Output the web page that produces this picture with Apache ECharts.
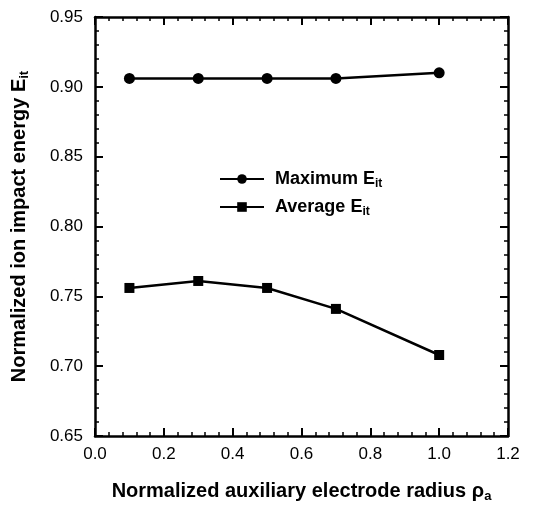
<!DOCTYPE html>
<html><head><meta charset="utf-8">
<script src="https://cdn.jsdelivr.net/npm/echarts@6/dist/echarts.min.js"></script>
<style>html,body{margin:0;padding:0;background:#fff}#c{width:533px;height:508px}</style>
</head><body><div id="c"></div>
<script>
const radius = [0.1, 0.3, 0.5, 0.7, 1.0];
const maxEit = [0.906, 0.906, 0.906, 0.906, 0.910];
const avgEit = [0.756, 0.761, 0.756, 0.741, 0.708];
const seriesNames = ['Maximum', 'Average'];

const chart = echarts.init(document.getElementById('c'));
const font = '"Liberation Sans", Arial, sans-serif';
const axisCommon = {
  axisLine: {show: true, onZero: false, lineStyle: {color: '#000', width: 2.5}},
  axisTick: {show: true, inside: true, length: 8, lineStyle: {color: '#000', width: 2}},
  minorTick: {show: true, splitNumber: 5, length: 4, lineStyle: {color: '#000', width: 1.5}},
  splitLine: {show: false}
};
const subRich = size => ({
  sub: {fontSize: size, fontWeight: 'bold', fontFamily: font, color: '#000', verticalAlign: 'bottom', padding: [Math.round(size * 0.8), 0, 0, 0]}
});
chart.setOption({
  animation: false,
  grid: {left: 95, right: 25, top: 17, bottom: 72},
  legend: {
    left: 214, top: 165, orient: 'vertical', itemGap: 8, itemWidth: 44, itemHeight: 12,
    data: seriesNames,
    formatter: n => n + ' E{sub|it}',
    textStyle: {fontFamily: font, fontSize: 18, fontWeight: 'bold', color: '#000', padding: [0, 0, 0, 6], rich: subRich(12)}
  },
  xAxis: [
    Object.assign({}, axisCommon, {
      type: 'value', min: 0, max: 1.2, interval: 0.2, position: 'bottom',
      axisLabel: {formatter: v => v.toFixed(1), fontFamily: font, fontSize: 17, color: '#000', margin: 10},
      name: 'Normalized auxiliary electrode radius ρ{sub|a}', nameLocation: 'middle', nameGap: 44,
      nameTextStyle: {fontFamily: font, fontSize: 20, fontWeight: 'bold', color: '#000', rich: subRich(13)}
    }),
    Object.assign({}, axisCommon, {
      type: 'value', min: 0, max: 1.2, interval: 0.2, position: 'top', axisLabel: {show: false}
    })
  ],
  yAxis: [
    Object.assign({}, axisCommon, {
      type: 'value', min: 0.65, max: 0.95, interval: 0.05, position: 'left',
      axisLabel: {formatter: v => v.toFixed(2), fontFamily: font, fontSize: 17, color: '#000', margin: 12},
      name: 'Normalized ion impact energy E{sub|it}', nameLocation: 'middle', nameGap: 64,
      nameTextStyle: {fontFamily: font, fontSize: 20, fontWeight: 'bold', color: '#000', rich: subRich(13)}
    }),
    Object.assign({}, axisCommon, {
      type: 'value', min: 0.65, max: 0.95, interval: 0.05, position: 'right', axisLabel: {show: false}
    })
  ],
  series: [
    {name: seriesNames[0], type: 'line', data: radius.map((x, i) => [x, maxEit[i]]),
     symbol: 'circle', symbolSize: 11, lineStyle: {color: '#000', width: 2.5}, itemStyle: {color: '#000'}},
    {name: seriesNames[1], type: 'line', data: radius.map((x, i) => [x, avgEit[i]]),
     symbol: 'rect', symbolSize: 10, lineStyle: {color: '#000', width: 2.5}, itemStyle: {color: '#000'}}
  ]
});
</script></body></html>
